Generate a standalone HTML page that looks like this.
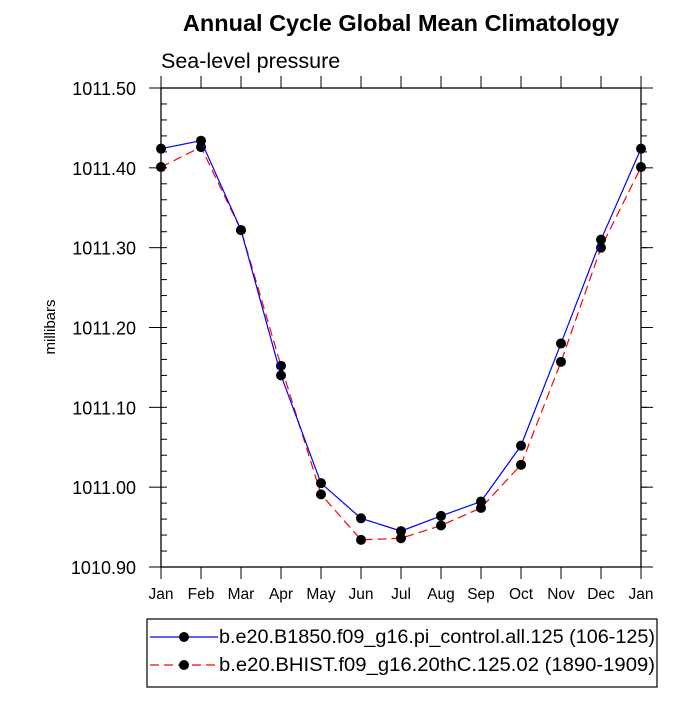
<!DOCTYPE html>
<html><head><meta charset="utf-8"><style>
body{margin:0;background:#fff;font-family:"Liberation Sans",sans-serif}
</style></head><body>
<svg id="c" width="700" height="700" xmlns="http://www.w3.org/2000/svg" font-family="Liberation Sans, sans-serif">
<text x="401" y="31" text-anchor="middle" font-size="23.5" font-weight="bold">Annual Cycle Global Mean Climatology</text>
<text x="161" y="68" font-size="21.5">Sea-level pressure</text>
<text x="0" y="0" transform="translate(55,327) rotate(-90)" text-anchor="middle" font-size="15">millibars</text>
<g id="axes"></g><g id="series"></g>
<g>
<rect x="147" y="619" width="510" height="68" fill="#fff" stroke="#000" stroke-width="1.2"/>
<g>
<line x1="150" y1="637" x2="218" y2="637" stroke="#00f" stroke-width="1.2"/><circle cx="184" cy="637" r="5"/>
<text x="219" y="643" font-size="19.5" textLength="436" lengthAdjust="spacingAndGlyphs">b.e20.B1850.f09_g16.pi_control.all.125 (106-125)</text></g>
<g>
<line x1="150" y1="665" x2="218" y2="665" stroke="#f00" stroke-width="1.2" stroke-dasharray="9,5"/><circle cx="184" cy="665" r="5"/>
<text x="219" y="671" font-size="19.5" textLength="436" lengthAdjust="spacingAndGlyphs">b.e20.BHIST.f09_g16.20thC.125.02 (1890-1909)</text></g>
</g>
</svg>
<script>
const months=["Jan","Feb","Mar","Apr","May","Jun","Jul","Aug","Sep","Oct","Nov","Dec","Jan"];
const controlVals=[1011.424,1011.434,1011.322,1011.140,1011.005,1010.961,1010.945,1010.964,1010.982,1011.052,1011.180,1011.310,1011.424];
const histVals=[1011.401,1011.426,1011.322,1011.152,1010.991,1010.934,1010.936,1010.952,1010.974,1011.028,1011.157,1011.300,1011.401];
const yTicks=[1010.90,1011.00,1011.10,1011.20,1011.30,1011.40,1011.50];
const L=161,R=641,T=88,B=567,ymin=1010.9,ymax=1011.5;
const xs=i=>L+i*(R-L)/(months.length-1);
const ys=v=>B-(v-ymin)/(ymax-ymin)*(B-T);
const NS="http://www.w3.org/2000/svg";
function mk(tag,attrs,parent){const e=document.createElementNS(NS,tag);for(const k in attrs)e.setAttribute(k,attrs[k]);parent.appendChild(e);return e;}
const ax=document.getElementById('axes');
const fr=mk('rect',{x:L,y:T,width:R-L,height:B-T,fill:'none',stroke:'#000','stroke-width':1.3},ax);


months.forEach((m,i)=>{const x=xs(i);
 mk('line',{x1:x,y1:B,x2:x,y2:B+12,stroke:'#000'},ax);
 mk('line',{x1:x,y1:T,x2:x,y2:T-12,stroke:'#000'},ax);
 const t=mk('text',{x:x,y:B+32,'text-anchor':'middle','font-size':15.5},ax);t.textContent=m;
 
 
});
for(let v=ymin;v<=ymax+1e-9;v+=0.02){const y=ys(v);
 mk('line',{x1:L,y1:y,x2:L+6,y2:y,stroke:'#000'},ax);
 mk('line',{x1:R,y1:y,x2:R+6,y2:y,stroke:'#000'},ax);}
yTicks.forEach(v=>{const y=ys(v);
 mk('line',{x1:L-12,y1:y,x2:L,y2:y,stroke:'#000'},ax);
 mk('line',{x1:R,y1:y,x2:R+12,y2:y,stroke:'#000'},ax);
 const t=mk('text',{x:136,y:y+7,'text-anchor':'end','font-size':18},ax);t.textContent=v.toFixed(2);
 
 
});
const sg=document.getElementById('series');
function series(vals,color,dash,name){
 const g=mk('g',{},sg);
 
 
 const a={points:vals.map((v,i)=>xs(i)+','+ys(v)).join(' '),fill:'none',stroke:color,'stroke-width':1.2};
 if(dash)a['stroke-dasharray']=dash;
 mk('polyline',a,g);
 vals.forEach((v,i)=>{const c=mk('circle',{cx:xs(i),cy:ys(v),r:5},g);
  
  });
}
series(histVals,'#f00','9,5','series-hist');
series(controlVals,'#00f',null,'series-control');
</script>
</body></html>
